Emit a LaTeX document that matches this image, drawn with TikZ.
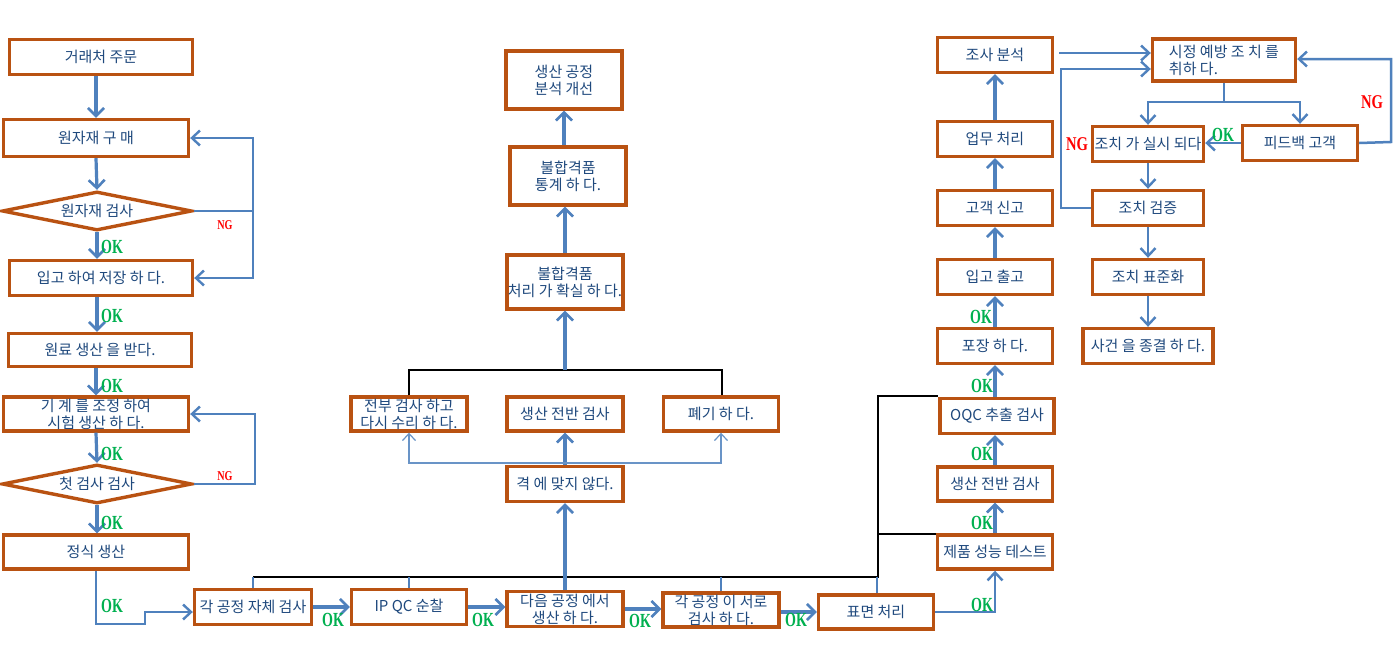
\documentclass[tikz,border=0pt]{standalone}
\usepackage{fontspec}
\setmainfont{Noto Sans CJK KR}
\newfontfamily\lserif{Liberation Serif}
\usetikzlibrary{shapes.geometric,arrows.meta,calc}
\definecolor{bord}{RGB}{185,82,18}
\definecolor{lblue}{RGB}{79,129,189}
\definecolor{txt}{RGB}{31,73,125}
\definecolor{okg}{RGB}{0,176,80}
\definecolor{ngr}{RGB}{255,0,0}
\tikzset{
  box/.style={draw=bord, line width=3.4pt, fill=white, text=txt, align=center, inner sep=0pt,
    font=\fontsize{15}{17}\selectfont},
  dia/.style={box, diamond, aspect=5},
  arr/.style={draw=lblue, line width=3.2pt, -{Straight Barb[length=8pt,width=16pt,line width=2.6pt]}},
  arrT/.style={draw=lblue, line width=2.5pt, -{Straight Barb[length=8pt,width=15pt,line width=2.4pt]}},
  lineT/.style={draw=lblue, line width=2.5pt},
  thinA/.style={draw=lblue!85, line width=1.2pt, -{Straight Barb[length=7pt,width=13pt,line width=1.2pt]}},
  thinL/.style={draw=lblue, line width=1.2pt},
  blk/.style={draw=black, line width=1.2pt},
  ok/.style={text=okg, inner sep=0pt, font=\lserif\bfseries\fontsize{20}{20}\selectfont},
  ngs/.style={text=ngr, inner sep=0pt, font=\lserif\bfseries\fontsize{13.5}{13.5}\selectfont},
  ngb/.style={text=ngr, inner sep=0pt, font=\lserif\bfseries\fontsize{19.5}{19.5}\selectfont},
}
\newcommand{\okt}{\scalebox{0.7}[1]{OK}}
\newcommand{\ngt}{\scalebox{0.75}[1]{NG}}
\begin{document}
\begin{tikzpicture}[x=1pt,y=-1pt]
\useasboundingbox[fill=white] (0,0) rectangle (1395,656);

% left column
\node[box, minimum width=183pt, minimum height=35pt] (n1) at (101,57) {거래처 주문};
\node[box, minimum width=185pt, minimum height=37pt] (n2) at (96,138) {원자재 구 매};
\node[dia, minimum width=190pt, minimum height=39pt] (d1) at (97,211) {원자재 검사};
\node[box, minimum width=183pt, minimum height=35pt] (n3) at (101,278) {입고 하여 저장 하 다.};
\node[box, minimum width=183pt, minimum height=33pt] (n4) at (100,350) {원료 생산 을 받다.};
\node[box, minimum width=185pt, minimum height=34pt] (n5) at (96,414) {기 계 를 조정 하여\\시험 생산 하 다.};
\node[dia, minimum width=190pt, minimum height=39pt] (d2) at (97,484) {첫 검사 검사};
\node[box, minimum width=185pt, minimum height=34pt] (n6) at (96,552) {정식 생산};

% bottom row
\node[box, minimum width=117pt, minimum height=35pt] (b1) at (253,607) {각 공정 자체 검사};
\node[box, minimum width=115pt, minimum height=35pt] (b2) at (409,607) {IP QC 순찰};
\node[box, minimum width=116pt, minimum height=35pt] (b3) at (565,609) {다음 공정 에서\\생산 하 다.};
\node[box, minimum width=116pt, minimum height=34pt] (b4) at (721,610) {각 공정 이 서로\\검사 하 다.};
\node[box, minimum width=115pt, minimum height=34pt] (b5) at (876,612) {표면 처리};

% middle column
\node[box, minimum width=116pt, minimum height=35pt] (m1) at (565,484) {격 에 맞지 않다.};
\node[box, minimum width=116pt, minimum height=34pt] (m2) at (409,414) {전부 검사 하고\\다시 수리 하 다.};
\node[box, minimum width=116pt, minimum height=34pt] (m3) at (565,414) {생산 전반 검사};
\node[box, minimum width=115pt, minimum height=34pt] (m4) at (721,414) {폐기 하 다.};
\node[box, minimum width=116pt, minimum height=54pt] (m5) at (565,282) {불합격품\\처리 가 확실 하 다.};
\node[box, minimum width=116pt, minimum height=58pt] (m6) at (568,176) {불합격품\\통계 하 다.};
\node[box, minimum width=116pt, minimum height=58pt] (m7) at (564,80) {생산 공정\\분석 개선};

% right column
\node[box, minimum width=115pt, minimum height=35pt] (r1) at (995,55) {조사 분석};
\node[box, minimum width=115pt, minimum height=35pt] (r2) at (995,139) {업무 처리};
\node[box, minimum width=115pt, minimum height=35pt] (r3) at (995,208) {고객 신고};
\node[box, minimum width=115pt, minimum height=35pt] (r4) at (995,277) {입고 출고};
\node[box, minimum width=115pt, minimum height=35pt] (r5) at (995,346) {포장 하 다.};
\node[box, minimum width=114pt, minimum height=35pt] (r6) at (997,416) {OQC 추출 검사};
\node[box, minimum width=115pt, minimum height=34pt] (r7) at (995,484) {생산 전반 검사};
\node[box, minimum width=115pt, minimum height=34pt] (r8) at (995,552) {제품 성능 테스트};

% far right
\node[box, minimum width=143pt, minimum height=42pt, align=left] (s1) at (1224,60) {시정 예방 조 치 를\\취하 다.};
\node[box, minimum width=111pt, minimum height=35pt] (s2) at (1148,144) {조치 가 실시 되다};
\node[box, minimum width=115pt, minimum height=35pt] (s3) at (1300,143) {피드백 고객};
\node[box, minimum width=111pt, minimum height=35pt] (s4) at (1148,208) {조치 검증};
\node[box, minimum width=111pt, minimum height=35pt] (s5) at (1148,277) {조치 표준화};
\node[box, minimum width=130pt, minimum height=35pt] (s6) at (1148,346) {사건 을 종결 하 다.};

% left column arrows
\draw[arr] (n1.south -| n2.south) -- (n2.north);
\draw[arr] (n2.south) -- (d1.north);
\draw[arr] (d1.south) -- (d1.south |- n3.north);
\draw[arr] (n3.south -| d1.south) -- (d1.south |- n4.north);
\draw[arr] (n4.south -| n5.north) -- (n5.north);
\draw[arr] (n5.south) -- (d2.north);
\draw[arr] (d2.south) -- (d2.south |- n6.north);

\coordinate (c1) at (253,211);
\draw[lineT] (d1.east) -- (c1);
\draw[arrT] (c1) |- (n2.east);
\draw[arrT] (c1) |- (n3.east);
\coordinate (c2) at (255,484);
\draw[arrT] (d2.east) -- (c2) |- (n5.east);

\coordinate (c3) at (96,624);
\coordinate (c4) at (145,624);
\draw[arrT] (n6.south) -- (c3) -- (c4) |- ($(b1.west)+(0,5)$);

% bottom arrows
\draw[arr] (b1.east) -- (b1.east -| b2.west);
\draw[arr] (b2.east) -- (b2.east -| b3.west);
\draw[arr] (b3.east) -- (b3.east -| b4.west);
\draw[arr] ($(b4.east)+(0,2)$) -- ($(b4.east -| b5.west)+(0,2)$);
\draw[arrT] (b5.east) -| (r8.south);

% black connector lines and ticks
\coordinate (k1) at (253,577);
\coordinate (k2) at (409,577);
\coordinate (k3) at (565,577);
\coordinate (k4) at (721,577);
\coordinate (k5) at (878,577);
\coordinate (k6) at (878,396);
\coordinate (k7) at (878,534);
\draw[blk] (k1) -- (k5) -- (k6) -- (k6 -| r6.west);
\draw[blk] (k7) -- (k7 -| r8.west);
\draw[thinL] (k1) -- (b1.north);
\draw[thinL] (k2) -- (b2.north);
\draw[thinL] (k4) -- (b4.north);
\draw[thinL] (877,577) -- (b5.north -| 877,0);

% middle arrows
\draw[arr] (b3.north) -- (m1.south);
\draw[arr] (m1.north) -- (m3.south);
\coordinate (hc) at (565,463);
\draw[thinA] (hc) -| (m2.south);
\draw[thinA] (hc) -| (m4.south);
\coordinate (t1) at (409,370);
\coordinate (t2) at (565,370);
\coordinate (t3) at (722,370);
\draw[blk] (m2.north) -- (t1) -- (t3) -- (m4.north -| t3);
\draw[arr] (t2) -- (m5.south);
\draw[arr] (m5.north) -- (m5.north |- m6.south);
\draw[arr] (m6.north -| m7.south) -- (m7.south);

% right column arrows
\draw[arr] (r8.north) -- (r7.south);
\draw[arr] (r7.north) -- (r7.north |- r6.south);
\draw[arr] (r6.north -| r5.south) -- (r5.south);
\draw[arr] (r5.north) -- (r4.south);
\draw[arr] (r4.north) -- (r3.south);
\draw[arr] (r3.north) -- (r2.south);
\draw[arr] (r2.north) -- (r1.south);

% far right arrows
\draw[arrT] ($(r1.east)+(5,-2)$) -- ($(s1.west)+(0,-7)$);
\coordinate (v1) at (1061,208);
\draw[arrT] (s4.west) -- (v1) |- ($(s1.west)+(0,9)$);
\coordinate (sp) at (1224,102);
\draw[arrT] (s1.south) -- (sp) -| (s2.north);
\draw[arrT] (sp) -| (s3.north);
\draw[arrT] (s3.west) -- (s3.west -| s2.east);
\coordinate (v2) at (1391,142);
\draw[arrT] (s3.east) -- (v2) |- ($(s1.east)+(0,-1)$);
\draw[arrT] (s2.south) -- (s4.north);
\draw[arrT] (s4.south) -- (s5.north);
\draw[arrT] (s5.south) -- (s6.north);

% labels
\node[ok] (ok1) at (112,247) {\okt};
\node[ok] (ok2) at (112,316) {\okt};
\node[ok] (ok3) at (112,386) {\okt};
\node[ok] (ok4) at (112,454) {\okt};
\node[ok] (ok5) at (112,523) {\okt};
\node[ok] (ok6) at (112,606) {\okt};
\node[ok] (ok7) at (333,620) {\okt};
\node[ok] (ok8) at (483,620) {\okt};
\node[ok] (ok9) at (640,621) {\okt};
\node[ok] (ok10) at (796,620) {\okt};
\node[ok] (ok11) at (982,605) {\okt};
\node[ok] (ok12) at (982,523) {\okt};
\node[ok] (ok13) at (982,454) {\okt};
\node[ok] (ok14) at (982,386) {\okt};
\node[ok] (ok15) at (981,317) {\okt};
\node[ok] (ok16) at (1223,135) {\okt};
\node[ngs] (ng1) at (225,225) {\ngt};
\node[ngs] (ng2) at (225,476) {\ngt};
\node[ngb] (ng3) at (1077,144) {\ngt};
\node[ngb] (ng4) at (1372,102) {\ngt};
\end{tikzpicture}
\end{document}
